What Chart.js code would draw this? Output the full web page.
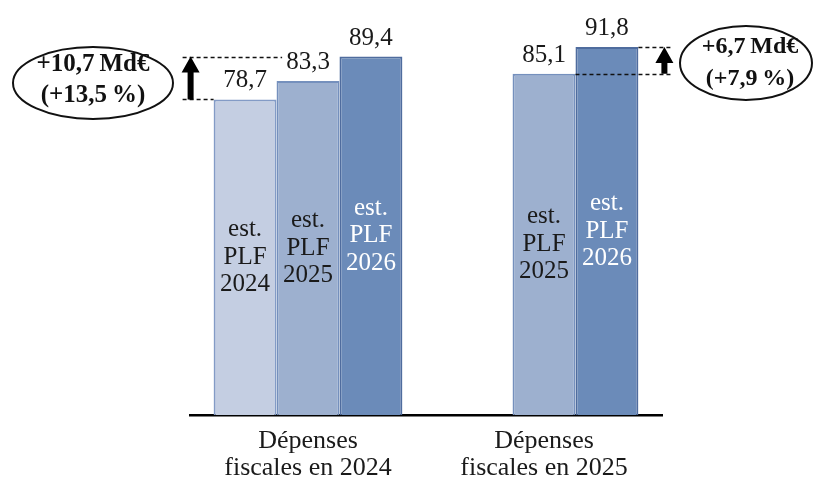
<!DOCTYPE html>
<html>
<head>
<meta charset="utf-8">
<script src="https://cdn.jsdelivr.net/npm/chart.js@4.4.1/dist/chart.umd.min.js"></script>
<style>
  html, body { margin: 0; padding: 0; background: #fff; }
  #wrap { width: 816px; height: 478px; }
</style>
</head>
<body>
<div id="wrap"><canvas id="chart" width="816" height="478"></canvas></div>
<script>
// Catégories (axe des abscisses)
const categories = [["Dépenses", "fiscales en 2024"], ["Dépenses", "fiscales en 2025"]];
// Séries : estimations successives (Md€)
const seriesLabels = [["est.", "PLF", "2024"], ["est.", "PLF", "2025"], ["est.", "PLF", "2026"]];
const estPlf2024 = [78.7, null];
const estPlf2025 = [83.3, 85.1];
const estPlf2026 = [89.4, 91.8];
// Évolutions mises en évidence : [catégorie, série de départ, série d'arrivée, texte]
const growthCallouts = [
  { cat: 0, from: 0, to: 2, lines: ["+10,7\u2009Md€", "(+13,5\u2009%)"] },
  { cat: 1, from: 1, to: 2, lines: ["+6,7\u2009Md€", "(+7,9\u2009%)"] }
];

const SERIF = '"Liberation Serif", "DejaVu Serif", serif';
const fills = ["#c4cee2", "#9db0cf", "#6b8bb9"];
const borders = ["#839bc6", "#7590bd", "#4f6c9e"];
const inkColors = ["#1a1a1a", "#1a1a1a", "#ffffff"];

const fmt = v => v.toFixed(1).replace(".", ",");

function dashed(ctx, x1, x2, y) {
  ctx.save();
  ctx.strokeStyle = "#111";
  ctx.lineWidth = 1.3;
  ctx.setLineDash([4, 3]);
  ctx.beginPath();
  ctx.moveTo(x1, Math.round(y) + 0.5);
  ctx.lineTo(x2, Math.round(y) + 0.5);
  ctx.stroke();
  ctx.restore();
}

function arrowUp(ctx, x, yTop, yBottom) {
  const headH = 16, headW = 9, shaft = 3;
  ctx.save();
  ctx.fillStyle = "#000";
  ctx.beginPath();
  ctx.moveTo(x, yTop);
  ctx.lineTo(x + headW, yTop + headH);
  ctx.lineTo(x + shaft, yTop + headH);
  ctx.lineTo(x + shaft, yBottom);
  ctx.lineTo(x - shaft, yBottom);
  ctx.lineTo(x - shaft, yTop + headH);
  ctx.lineTo(x - headW, yTop + headH);
  ctx.closePath();
  ctx.fill();
  ctx.restore();
}

function ellipseNote(ctx, cx, cy, rx, ry, lines, textX, baselines, size) {
  ctx.save();
  ctx.beginPath();
  ctx.ellipse(cx, cy, rx, ry, 0, 0, Math.PI * 2);
  ctx.fillStyle = "#fff";
  ctx.fill();
  ctx.lineWidth = 2;
  ctx.strokeStyle = "#111";
  ctx.stroke();
  ctx.fillStyle = "#111";
  ctx.font = "bold " + size + "px " + SERIF;
  ctx.textAlign = "center";
  ctx.textBaseline = "alphabetic";
  lines.forEach((t, i) => ctx.fillText(t, textX, baselines[i]));
  ctx.restore();
}

const annotations = {
  id: "annotations",
  afterDatasetsDraw(chart) {
    const ctx = chart.ctx;
    const bar = (ds, cat) => chart.getDatasetMeta(ds).data[cat];

    // Libellés de valeurs au-dessus des barres
    ctx.save();
    ctx.font = "25px " + SERIF;
    ctx.fillStyle = "#1a1a1a";
    ctx.textAlign = "center";
    ctx.textBaseline = "alphabetic";
    const labelBoxes = {};
    chart.data.datasets.forEach((d, i) => {
      d.data.forEach((v, j) => {
        if (v == null) return;
        const b = bar(i, j);
        const t = fmt(v);
        ctx.fillText(t, b.x, b.y - 12);
        labelBoxes[i + "_" + j] = b.x - ctx.measureText(t).width / 2;
      });
    });
    ctx.restore();

    // Libellés dans les barres
    ctx.save();
    ctx.font = "25px " + SERIF;
    ctx.textAlign = "center";
    ctx.textBaseline = "middle";
    chart.data.datasets.forEach((d, i) => {
      d.data.forEach((v, j) => {
        if (v == null) return;
        const b = bar(i, j);
        const mid = (b.y + b.base) / 2;
        ctx.fillStyle = inkColors[i];
        seriesLabels[i].forEach((t, k) => ctx.fillText(t, b.x, mid + (k - 1) * 27.5));
      });
    });
    ctx.restore();

    // Évolution 2024 : flèche à gauche du premier groupe
    {
      const g = growthCallouts[0];
      const lo = bar(g.from, g.cat), hi = bar(g.to, g.cat);
      const loLeft = lo.x - lo.width / 2;
      const ax = loLeft - 23;
      const midLeft = labelBoxes["1_" + g.cat];
      dashed(ctx, ax - 8, loLeft, lo.y);
      dashed(ctx, ax - 8, midLeft - 4, hi.y);
      arrowUp(ctx, ax, hi.y, lo.y);
      ellipseNote(ctx, 93, 83, 80, 36, g.lines, 93, [71, 102], 25);
    }
    // Évolution 2025 : flèche à droite du second groupe
    {
      const g = growthCallouts[1];
      const lo = bar(g.from, g.cat), hi = bar(g.to, g.cat);
      const hiRight = hi.x + hi.width / 2;
      const ax = hiRight + 26;
      dashed(ctx, lo.x + lo.width / 2, ax + 9, lo.y);
      dashed(ctx, hiRight, ax + 9, hi.y);
      arrowUp(ctx, ax, hi.y, lo.y);
      ellipseNote(ctx, 746, 63, 66, 37, g.lines, 750, [53, 85], 24);
    }
  }
};

const seriesData = [estPlf2024, estPlf2025, estPlf2026];

new Chart(document.getElementById("chart"), {
  type: "bar",
  data: {
    labels: categories,
    datasets: seriesData.map((vals, i) => ({
      label: seriesLabels[i].join(" "),
      data: vals,
      backgroundColor: fills[i],
      borderColor: borders[i],
      borderWidth: 2,
      categoryPercentage: 0.8,
      barPercentage: 1.0
    }))
  },
  options: {
    responsive: false,
    animation: false,
    devicePixelRatio: 1,
    layout: { padding: { left: 190, right: 154, top: 14, bottom: 0 } },
    plugins: {
      legend: { display: false },
      tooltip: { enabled: false }
    },
    scales: {
      x: {
        grid: { display: false, drawTicks: false },
        border: { display: true, color: "#000", width: 2.5 },
        afterFit(scale) { scale.height = 63; },
        ticks: {
          color: "#1a1a1a",
          padding: 13,
          font: { family: SERIF, size: 26, lineHeight: 1.04 },
          maxRotation: 0
        }
      },
      y: {
        display: false,
        min: 0,
        max: 100
      }
    }
  },
  plugins: [annotations]
});
</script>
</body>
</html>
